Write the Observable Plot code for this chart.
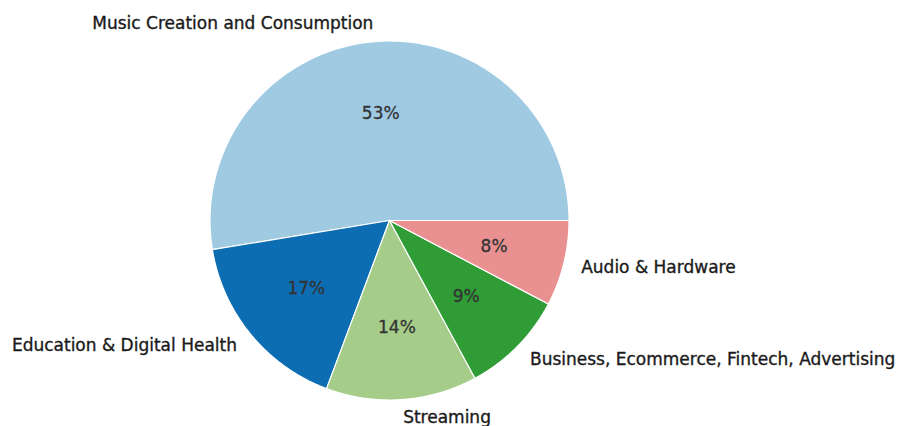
<!DOCTYPE html>
<html>
<head>
<meta charset="utf-8">
<script src="https://cdn.jsdelivr.net/npm/d3@7"></script>
<script src="https://cdn.jsdelivr.net/npm/@observablehq/plot@0.6"></script>
<style>
  html, body { margin: 0; padding: 0; background: #fff; overflow: hidden; }
  #chart svg { display: block; overflow: visible; }
</style>
</head>
<body>
<div id="chart"></div>
<script>
// Data
const categories = [
  "Music Creation and Consumption",
  "Education & Digital Health",
  "Streaming",
  "Business, Ecommerce, Fintech, Advertising",
  "Audio & Hardware"
];
const shares = [52.6, 16.7, 13.6, 9.4, 7.7];
const colors = ["#9fcae2", "#0d6db2", "#a5cd89", "#2f9c35", "#e99091"];

// Build wedges (counter-clockwise from 3 o'clock, like matplotlib)
const total = d3.sum(shares);
let acc = 0;
const wedges = categories.map((c, i) => {
  const a0 = acc / total * 2 * Math.PI;
  acc += shares[i];
  const a1 = acc / total * 2 * Math.PI;
  return {category: c, share: shares[i], a0, a1, mid: (a0 + a1) / 2};
});

const outline = [];
for (const w of wedges) {
  outline.push({category: w.category, x: 0, y: 0});
  const n = Math.max(2, Math.ceil((w.a1 - w.a0) / (Math.PI / 360)));
  for (let k = 0; k <= n; k++) {
    const a = w.a0 + (w.a1 - w.a0) * k / n;
    outline.push({category: w.category, x: Math.cos(a), y: Math.sin(a)});
  }
}

const labels = wedges.map(w => {
  const x = 1.1 * Math.cos(w.mid), y = 1.1 * Math.sin(w.mid);
  return {x, y, text: w.category, anchor: Math.abs(x) < 1e-9 ? "middle" : (x > 0 ? "start" : "end")};
});
const pcts = wedges.map(w => ({
  x: 0.6 * Math.cos(w.mid), y: 0.6 * Math.sin(w.mid),
  text: Math.round(w.share / total * 100) + "%"
}));

const R = 179.5, cx = 389, cy = 220;
const font = "DejaVu Sans";
const fs = 17;

const chart = Plot.plot({
  width: 897,
  height: 426,
  margin: 0,
  style: {background: "#fff", fontFamily: font},
  x: {domain: [-1, 1], range: [cx - R, cx + R], axis: null},
  y: {domain: [-1, 1], range: [cy + R, cy - R], axis: null},
  color: {domain: categories, range: colors},
  marks: [
    Plot.line(outline, {x: "x", y: "y", z: "category", fill: "category",
      stroke: "#fff", strokeWidth: 1.2, curve: "linear-closed", strokeLinejoin: "round"}),
    Plot.text(pcts, {x: "x", y: "y", text: "text", fill: "#333", fontSize: fs, fontFamily: font,
      stroke: "#333", strokeWidth: 0.3}),
    ...["start", "end", "middle"].map(a =>
      Plot.text(labels.filter(d => d.anchor === a), {x: "x", y: "y", text: "text",
        textAnchor: a, fill: "#1a1a1a", stroke: "#1a1a1a", strokeWidth: 0.35,
        fontSize: fs, fontFamily: font}))
  ]
});
document.getElementById("chart").appendChild(chart);
</script>
</body>
</html>
